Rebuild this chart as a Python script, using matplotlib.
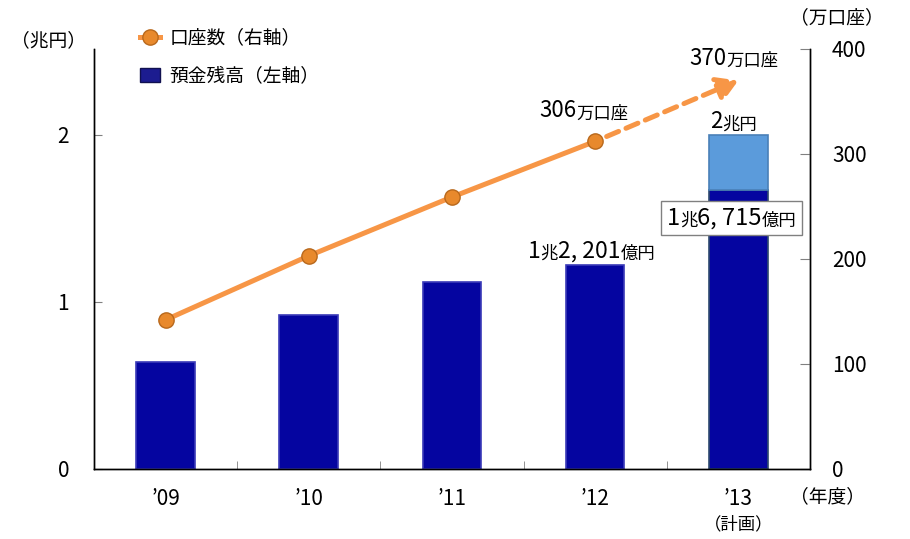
import numpy as np
import matplotlib.pyplot as plt
from matplotlib.lines import Line2D
from matplotlib.patches import Patch, Rectangle
from matplotlib.transforms import Bbox, blended_transform_factory

plt.rcParams['font.family'] = ['Noto Sans CJK JP', 'DejaVu Sans']

# data
years = ["’09", "’10", "’11", "’12", "’13"]
year_notes = ["", "", "", "", "（計画）"]
deposits = [0.64, 0.92, 1.12, 1.2201, 1.6715]   # 兆円, left axis
plan_deposit = 2.0                              # '13 plan top
accounts = [142, 203, 259, 312]                 # 万口座, right axis
plan_accounts = 370

orange = '#F79646'
navy = '#0505A0'
light = '#5B9BDB'

fig = plt.figure(figsize=(9.1, 5.39), dpi=100)
ax = fig.add_axes([0.1033, 0.1299, 0.7867, 0.7792])
ax2 = ax.twinx()
x = np.arange(len(years))

# bars (left axis)
edges = ['#3A3AB8'] * 4 + ['#2E4A6E']
ax.bar(x, deposits, width=0.41, color=navy, edgecolor=edges, linewidth=1.2, zorder=2)
ax.bar(x[-1], plan_deposit - deposits[-1], bottom=deposits[-1], width=0.41,
       color=light, edgecolor='#4A80B8', linewidth=1.2, zorder=2)

# accounts line (right axis)
ax2.plot(x[:4], accounts, color=orange, lw=3.6, marker='o', ms=11,
         mfc='#E8892C', mec='#B8681C', mew=1, zorder=5)
# dashed plan arrow
ax2.annotate('', xy=(x[4], plan_accounts), xytext=(x[3], accounts[3]),
             arrowprops=dict(arrowstyle='-|>,head_length=1.25,head_width=0.75',
                             color=orange, lw=3.6, linestyle=(0, (2.6, 1.6)),
                             shrinkA=9, shrinkB=0), zorder=4)

ax.set_xlim(-0.5, 4.5)
ax.set_ylim(0, 2.515)
ax2.set_ylim(0, 400)

for a in (ax, ax2):
    a.spines['top'].set_visible(False)
    for s in ('left', 'right', 'bottom'):
        a.spines[s].set_linewidth(1.0)
        a.spines[s].set_color('black')

ax.set_yticks([0, 1, 2])
ax.tick_params(axis='y', direction='in', length=6, color='#808080', pad=18, labelsize=15)
ax2.set_yticks([0, 100, 200, 300, 400])
ax2.tick_params(axis='y', direction='in', length=7, color='#808080', pad=16, labelsize=15)

ax.set_xticks(x)
ax.set_xticklabels(years, fontsize=15)
ax.tick_params(axis='x', which='major', length=0, pad=14)
ax.set_xticks(x[:-1] + 0.5, minor=True)
ax.tick_params(axis='x', which='minor', direction='in', length=6, color='#808080')

# note under the plan year
bt = blended_transform_factory(ax.transData, ax.transAxes)
for xi, note in zip(x, year_notes):
    if note:
        ax.text(xi, -0.132, note, transform=bt, fontsize=12.5, ha='center', va='center')


def runs(a, x0, y0, parts, z=6):
    """draw text pieces of mixed size one after another"""
    out = []
    t = a.text(x0, y0, parts[0][0], fontsize=parts[0][1], ha='left', va='bottom', zorder=z)
    out.append(t)
    for s, fs in parts[1:]:
        t = a.annotate(s, xy=(1, 0), xycoords=t, fontsize=fs, ha='left', va='bottom',
                       zorder=z)
        out.append(t)
    return out


# value labels
runs(ax2, 2.61, 330, [('306', 16), ('万口座', 12.5)])
runs(ax2, 3.66, 380, [('370', 16), ('万口座', 12.5)])
runs(ax, 3.8, 2.01, [('2', 16), ('兆円', 12.5)])
runs(ax, 2.53, 1.235, [('1', 16.5), ('兆', 12.5), ('2, 201', 16.5), ('億円', 12.5)])
box_txt = runs(ax2, 3.5, 228, [('1', 17), ('兆', 12.5), ('6, 715', 17), ('億円', 12.5)], z=8)

# legend
h_line = Line2D([], [], color=orange, lw=3.6, marker='o', ms=11,
                mfc='#E8892C', mec='#B8681C')
h_bar = Patch(facecolor='#1C1C90', edgecolor='#111150')
fig.legend([h_line, h_bar], ['口座数（右軸）', '預金残高（左軸）'],
           loc='upper left', bbox_to_anchor=(0.135, 0.98), frameon=False,
           fontsize=13.5, handlelength=1.1, handletextpad=0.5, labelspacing=0.9)

# axis unit labels
fig.text(0.012, 0.925, '（兆円）', fontsize=13.5, va='center')
fig.text(0.868, 0.968, '（万口座）', fontsize=13.5, va='center')
fig.text(0.868, 0.078, '（年度）', fontsize=13.5, va='center')

# box around the '13 label
fig.canvas.draw()
r = fig.canvas.get_renderer()
bb = Bbox.union([t.get_window_extent(r) for t in box_txt])
inv = fig.transFigure.inverted()
(x0, y0), (x1, y1) = inv.transform([[bb.x0 - 6, bb.y0 - 5], [bb.x1 + 6, bb.y1 + 6]])
ax2.add_patch(Rectangle((x0, y0), x1 - x0, y1 - y0, transform=fig.transFigure,
                        facecolor='white', edgecolor='#808080', lw=1.0, zorder=7))
ax2.set_ylim(0, 400)

fig.savefig('out.png', dpi=100)
